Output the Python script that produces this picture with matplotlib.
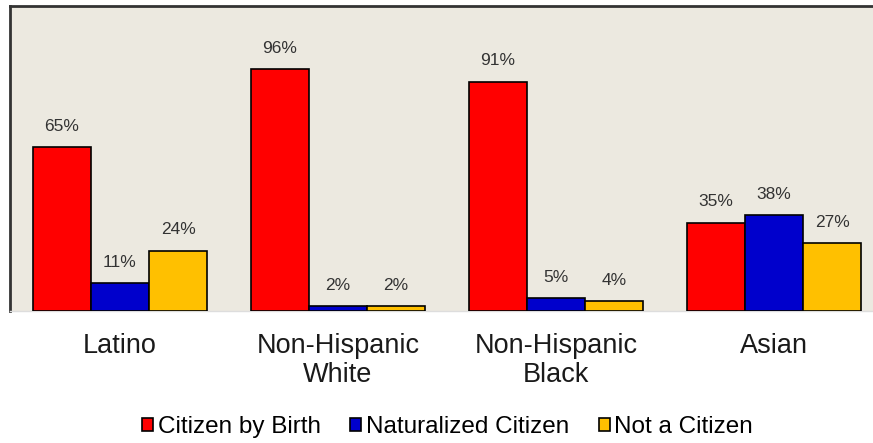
import matplotlib.pyplot as plt
import numpy as np

# Data
groups = ['Latino', 'Non-Hispanic\nWhite', 'Non-Hispanic\nBlack', 'Asian']
series = ['Citizen by Birth', 'Naturalized Citizen', 'Not a Citizen']
birth = [65, 96, 91, 35]
naturalized = [11, 2, 5, 38]
not_citizen = [24, 2, 4, 27]
colors = ['#FF0000', '#0000CC', '#FFC000']

plt.rcParams['font.family'] = ['Liberation Sans', 'DejaVu Sans']

fig = plt.figure(figsize=(8.73, 4.43), dpi=100)
ax = fig.add_axes([10 / 873, 132 / 443, 863 / 873, 305 / 443])
ax.set_facecolor('#ECE9E0')

x = np.arange(len(groups))
w = 58 / 218
for k, (vals, col, name) in enumerate(zip([birth, naturalized, not_citizen], colors, series)):
    bars = ax.bar(x + (k - 1) * w, vals, w, color=col, edgecolor='black',
                  linewidth=1.2, label=name, zorder=3)
    for b, v in zip(bars, vals):
        ax.annotate(f'{v}%', (b.get_x() + b.get_width() / 2, b.get_height()),
                    xytext=(0, 15), textcoords='offset points',
                    ha='center', va='center', fontsize=12.5, color='#333333')

ax.set_xlim(-110 / 218, -110 / 218 + 863 / 218)
ax.set_ylim(0, 121)
ax.set_yticks([])
ax.set_xticks(x)
ax.set_xticklabels(groups, fontsize=19.5, linespacing=1.15, color='#1a1a1a')
ax.tick_params(axis='x', length=0, pad=16)

for s in ['left', 'top']:
    ax.spines[s].set_color('#333333')
    ax.spines[s].set_linewidth(2)
ax.spines['right'].set_visible(False)
ax.spines['bottom'].set_color('#DDDDDD')
ax.spines['bottom'].set_linewidth(1)

leg = fig.legend(loc='center', bbox_to_anchor=(0.513, 0.036), ncol=3, frameon=False,
                 fontsize=17.5, handlelength=0.45, handleheight=0.45, handletextpad=0.2,
                 columnspacing=1.2, borderpad=0)

fig.savefig('out.png', dpi=100)
